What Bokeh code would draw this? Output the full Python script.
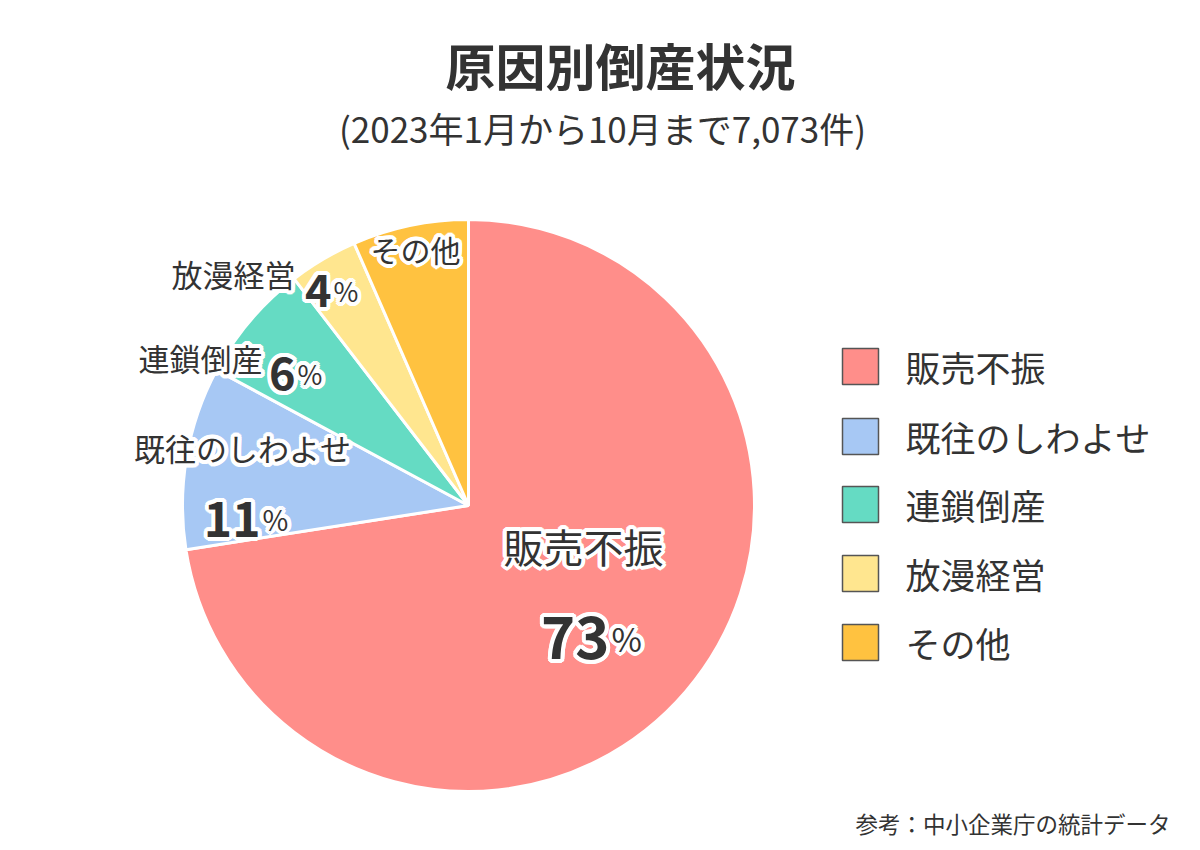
import math
from bokeh.plotting import figure
from bokeh.models import Range1d, ColumnDataSource
from bokeh.core.properties import value
from bokeh.embed import file_html
from bokeh.resources import INLINE

# ---------------- data ----------------
categories = ["販売不振", "既往のしわよせ", "連鎖倒産", "放漫経営", "その他"]
counts = [5130, 730, 475, 275, 463]          # (total 7,073)
pct_labels = ["73", "11", "6", "4", ""]
colors = ["#FF8E8A", "#A7C8F4", "#65DBC3", "#FFE68F", "#FFC240"]

title = "原因別倒産状況"
subtitle = "(2023年1月から10月まで7,073件)"
source_note = "参考：中小企業庁の統計データ"

FONT = "Noto Sans CJK JP"
TXT = "#333333"
W, H = 1200, 850

p = figure(width=W, height=H, output_backend="svg", toolbar_location=None,
           x_range=Range1d(0, W), y_range=Range1d(0, H), min_border=0,
           background_fill_color="white", border_fill_color="white")
p.axis.visible = False
p.grid.visible = False
p.outline_line_color = None


def Y(sy):
    return H - sy


# ---------------- pie ----------------
cx, cy, r = 468, Y(505), 286
total = sum(counts)
starts, ends = [], []
cum = 0.0
for c in counts:
    a0 = math.pi / 2 - 2 * math.pi * cum / total
    cum += c
    a1 = math.pi / 2 - 2 * math.pi * cum / total
    starts.append(a1)
    ends.append(a0)

src = ColumnDataSource(dict(start=starts, end=ends, color=colors, cat=categories))
p.wedge(x=cx, y=cy, radius=r, start_angle="start", end_angle="end",
        fill_color="color", line_color="white", line_width=3, source=src)


# ---------------- text helpers ----------------
def txt(x, y, s, size, align="left", baseline="middle", bold=False, color=TXT, halo=False):
    style = "bold" if bold else "normal"
    if halo:
        n = 16
        for k in range(n):
            ang = 2 * math.pi * k / n
            p.text(x=[x], y=[Y(y)], text=[s], text_font=value(FONT), text_font_size=f"{size}px",
                   text_font_style=style, text_align=align, text_baseline=baseline,
                   text_color="white", x_offset=4 * math.cos(ang), y_offset=4 * math.sin(ang))
    p.text(x=[x], y=[Y(y)], text=[s], text_font=value(FONT), text_font_size=f"{size}px",
           text_font_style=style, text_align=align, text_baseline=baseline, text_color=color)


# title / subtitle / source
txt(620, 63, title, 50, align="center", bold=True)
txt(602, 127, subtitle, 35, align="center")
txt(1170, 822, source_note, 22.5, align="right")

# slice labels
txt(583, 545, categories[0], 40, align="center", halo=True)
txt(609, 637, pct_labels[0], 58, align="right", baseline="alphabetic", bold=True, halo=True)
txt(611, 637, "%", 33, align="left", baseline="alphabetic", halo=True)

txt(242, 447, categories[1], 31, align="center", halo=True)
txt(260, 518, pct_labels[1], 48, align="right", baseline="alphabetic", bold=True, halo=True)
txt(262, 518, "%", 28, align="left", baseline="alphabetic", halo=True)

txt(262, 357, categories[2], 31, align="right", halo=True)
txt(295, 373, pct_labels[2], 45, align="right", baseline="alphabetic", bold=True, halo=True)
txt(297, 373, "%", 27, align="left", baseline="alphabetic", halo=True)

txt(295, 273, categories[3], 31, align="right", halo=True)
txt(331, 290, pct_labels[3], 45, align="right", baseline="alphabetic", bold=True, halo=True)
txt(333, 290, "%", 27, align="left", baseline="alphabetic", halo=True)

txt(415, 248, categories[4], 30, align="center", halo=True)

# ---------------- legend ----------------
leg_y = [366, 436, 504, 573, 642]
p.rect(x=[860] * 5, y=[Y(v) for v in leg_y], width=36, height=36,
       fill_color=colors, line_color="#555555", line_width=1.5)
for cat, ly in zip(categories, leg_y):
    txt(905, ly, cat, 35, align="left")

open("out.html", "w").write(file_html(p, INLINE))
